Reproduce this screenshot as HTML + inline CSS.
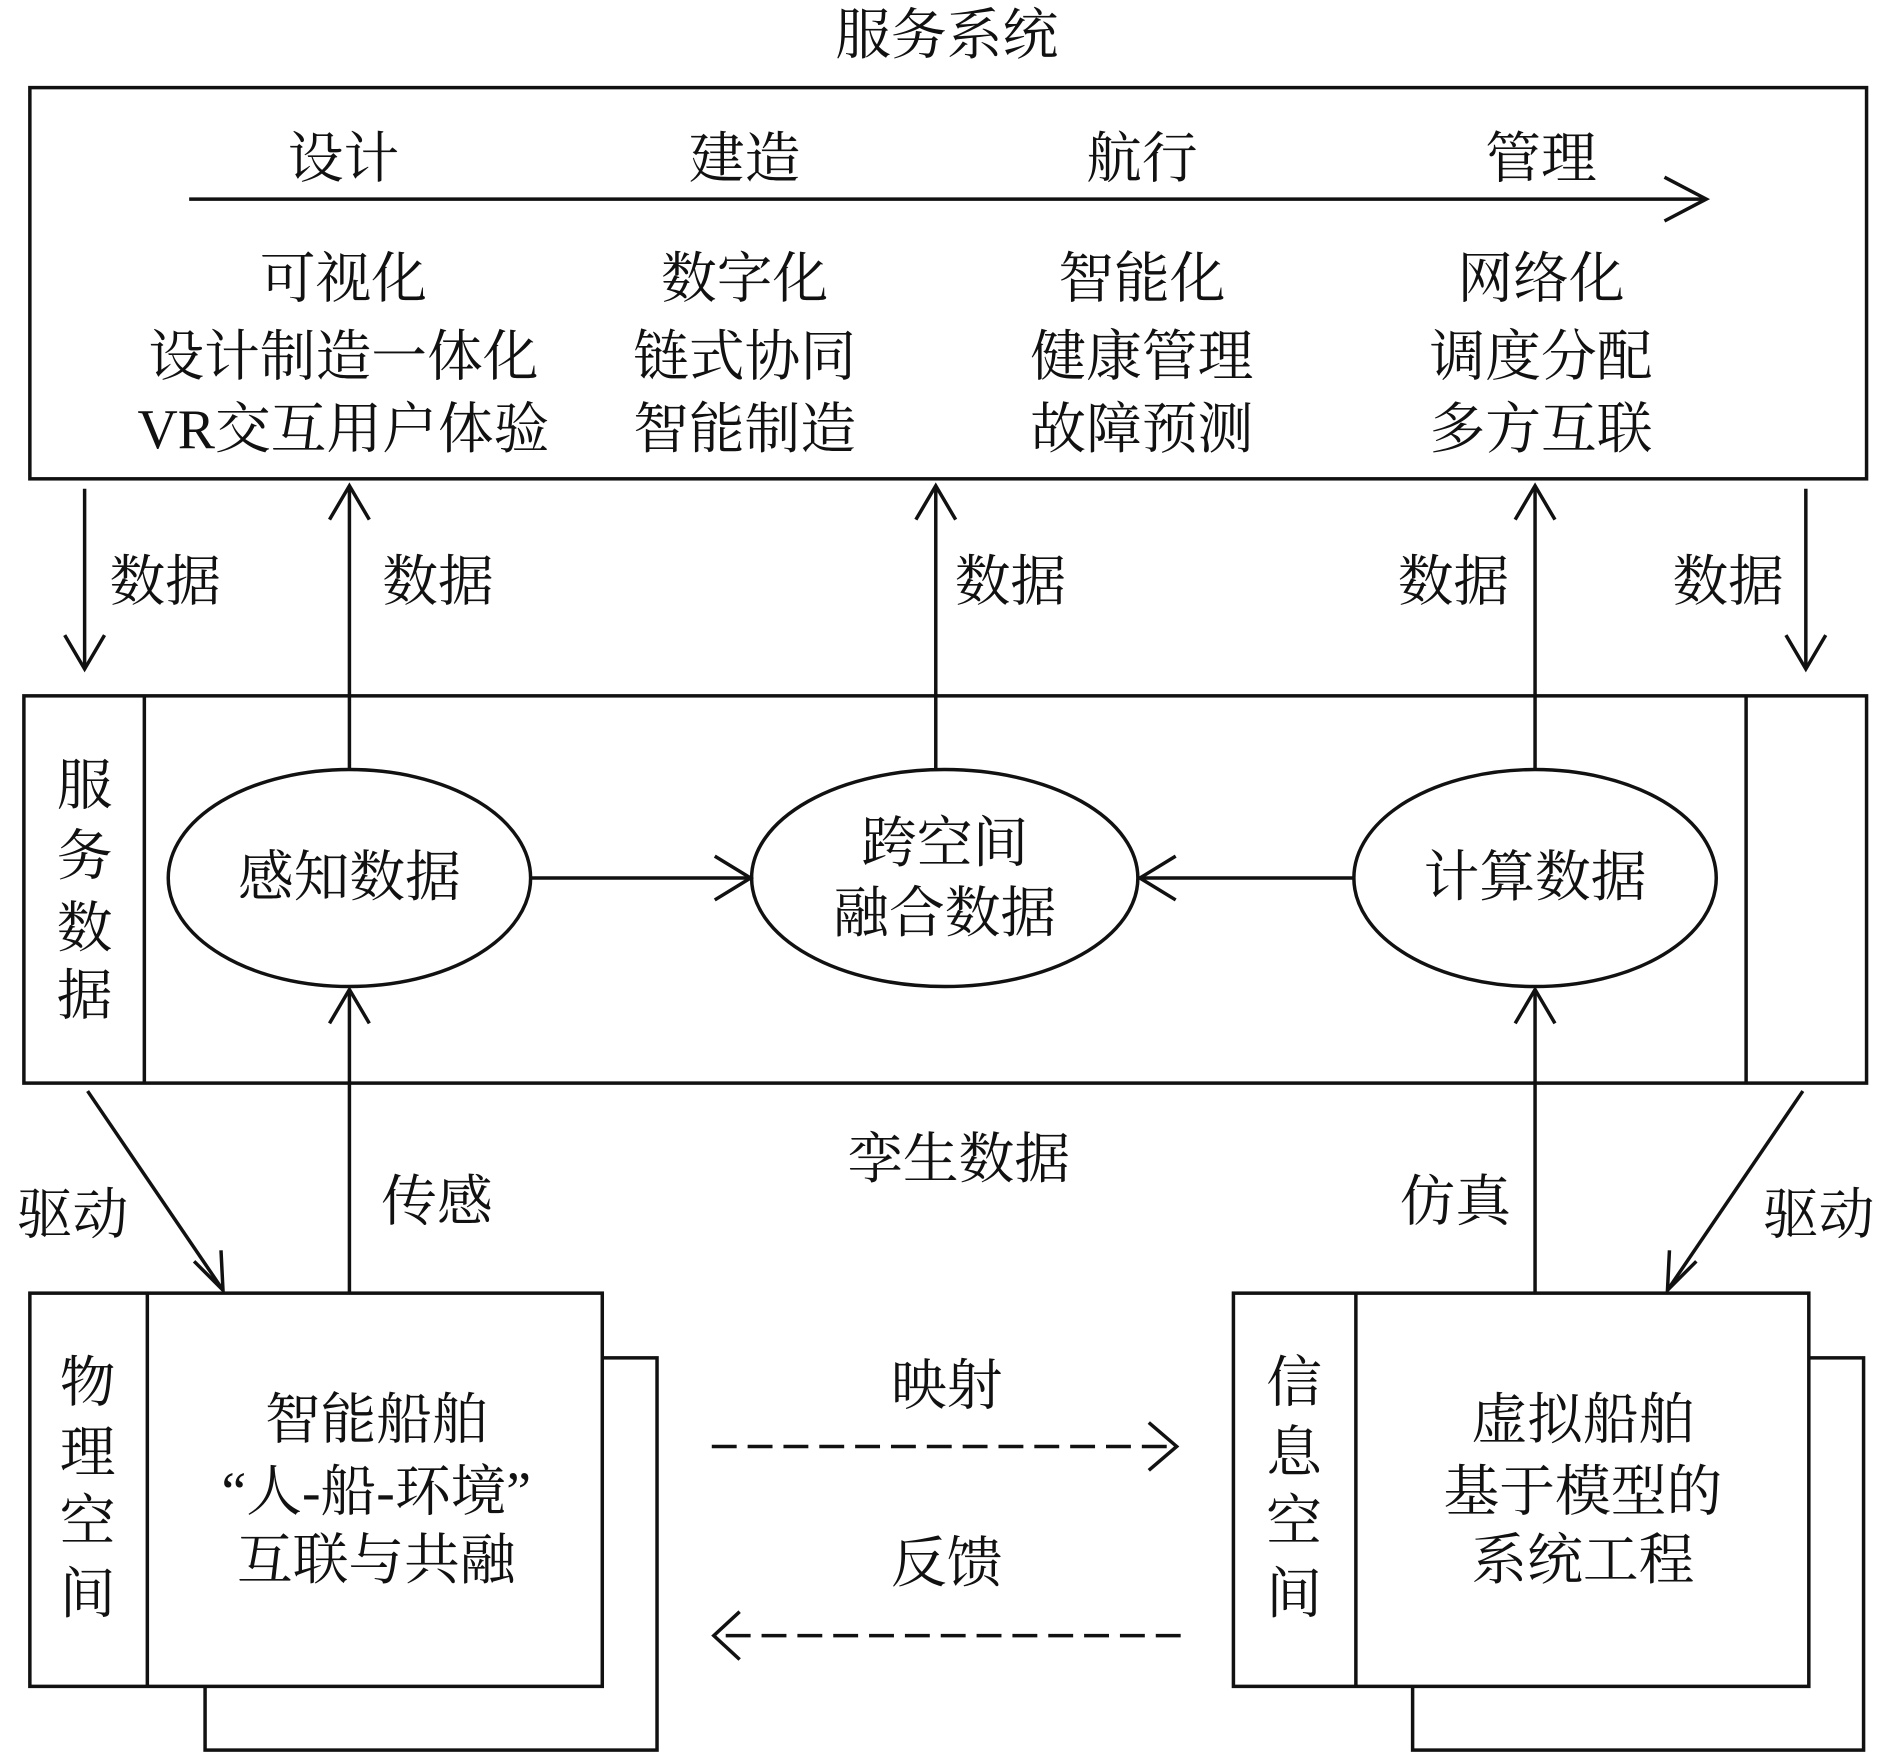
<!DOCTYPE html>
<html><head><meta charset="utf-8"><style>
html,body{margin:0;padding:0;background:#fff}
svg{display:block}
text{font-family:"Liberation Serif","Noto Serif CJK SC",serif;font-size:56px;fill:#111;text-anchor:middle;dominant-baseline:central}
</style></head><body>
<svg width="1890" height="1760" viewBox="0 0 1890 1760" xmlns="http://www.w3.org/2000/svg">
<g transform="scale(0.9955)">
<g stroke="#111" stroke-width="3.5" fill="none">
<rect x="30" y="88" width="1845" height="393"/>
<line x1="190" y1="200" x2="1712" y2="200"/>
<polyline points="1672,178 1714,200 1672,222"/>
<rect x="24" y="699" width="1851" height="389"/>
<line x1="145" y1="699" x2="145" y2="1088"/>
<line x1="1754" y1="699" x2="1754" y2="1088"/>
<ellipse cx="351" cy="882" rx="182" ry="109" fill="#fff"/>
<ellipse cx="949" cy="882" rx="194" ry="109" fill="#fff"/>
<ellipse cx="1542" cy="882" rx="182" ry="109" fill="#fff"/>
<line x1="533" y1="882" x2="752" y2="882"/>
<polyline points="718,860 754,882 718,904"/>
<line x1="1360" y1="882" x2="1147" y2="882"/>
<polyline points="1181,860 1145,882 1181,904"/>
<line x1="351" y1="773" x2="351" y2="490"/>
<polyline points="331,522 351,488 371,522"/>
<line x1="940" y1="773" x2="940" y2="490"/>
<polyline points="920,522 940,488 960,522"/>
<line x1="1542" y1="773" x2="1542" y2="490"/>
<polyline points="1522,522 1542,488 1562,522"/>
<line x1="85" y1="491" x2="85" y2="670"/>
<polyline points="65,638 85,672 105,638"/>
<line x1="1814" y1="491" x2="1814" y2="670"/>
<polyline points="1794,638 1814,672 1834,638"/>
<line x1="351" y1="1299" x2="351" y2="994"/>
<polyline points="331,1028 351,994 371,1028"/>
<line x1="1542" y1="1299" x2="1542" y2="994"/>
<polyline points="1522,1028 1542,994 1562,1028"/>
<line x1="88" y1="1096" x2="224" y2="1296"/>
<polyline points="195,1267 224,1296 222,1256"/>
<line x1="1811" y1="1096" x2="1675" y2="1296"/>
<polyline points="1677,1256 1675,1296 1704,1267"/>
<rect x="206" y="1364" width="454" height="394"/>
<rect x="30" y="1299" width="575" height="395" fill="#fff"/>
<line x1="148" y1="1299" x2="148" y2="1694"/>
<rect x="1419" y="1364" width="453" height="394"/>
<rect x="1239" y="1299" width="578" height="395" fill="#fff"/>
<line x1="1362" y1="1299" x2="1362" y2="1694"/>
<line x1="715" y1="1453" x2="1180" y2="1453" stroke-dasharray="25,11"/>
<polyline points="1154,1429 1182,1453 1154,1477"/>
<line x1="1186" y1="1643" x2="722" y2="1643" stroke-dasharray="25,11"/>
<polyline points="743,1619 717,1643 743,1667"/>
</g>
<text x="951" y="36">服务系统</text>
<text x="345" y="160">设计</text><text x="748" y="160">建造</text><text x="1147" y="160">航行</text><text x="1548" y="160">管理</text>
<text x="345" y="281">可视化</text><text x="345" y="359">设计制造一体化</text><text x="345" y="432">VR交互用户体验</text>
<text x="748" y="281">数字化</text><text x="748" y="359">链式协同</text><text x="748" y="432">智能制造</text>
<text x="1147" y="281">智能化</text><text x="1147" y="359">健康管理</text><text x="1147" y="432">故障预测</text>
<text x="1548" y="281">网络化</text><text x="1548" y="359">调度分配</text><text x="1548" y="432">多方互联</text>
<text x="166" y="585">数据</text><text x="440" y="585">数据</text><text x="1015" y="585">数据</text><text x="1460" y="585">数据</text><text x="1736" y="585">数据</text>
<text x="85" y="790">服</text><text x="85" y="861">务</text><text x="85" y="933">数</text><text x="85" y="1001">据</text>
<text x="351" y="882">感知数据</text>
<text x="949" y="848">跨空间</text><text x="949" y="918">融合数据</text>
<text x="1542" y="882">计算数据</text>
<text x="963" y="1165">孪生数据</text>
<text x="73" y="1221">驱动</text><text x="1827" y="1221">驱动</text>
<text x="439" y="1208">传感</text><text x="1462" y="1208">仿真</text>
<text x="88" y="1390">物</text><text x="88" y="1460">理</text><text x="88" y="1529">空</text><text x="88" y="1602">间</text>
<text x="378" y="1427">智能船舶</text><text x="378" y="1499">“人-船-环境”</text><text x="378" y="1568">互联与共融</text>
<text x="1300" y="1390">信</text><text x="1300" y="1460">息</text><text x="1300" y="1529">空</text><text x="1300" y="1602">间</text>
<text x="1590" y="1427">虚拟船舶</text><text x="1590" y="1499">基于模型的</text><text x="1590" y="1568">系统工程</text>
<text x="951" y="1393">映射</text><text x="951" y="1571">反馈</text>
</g>
</svg>
</body></html>
